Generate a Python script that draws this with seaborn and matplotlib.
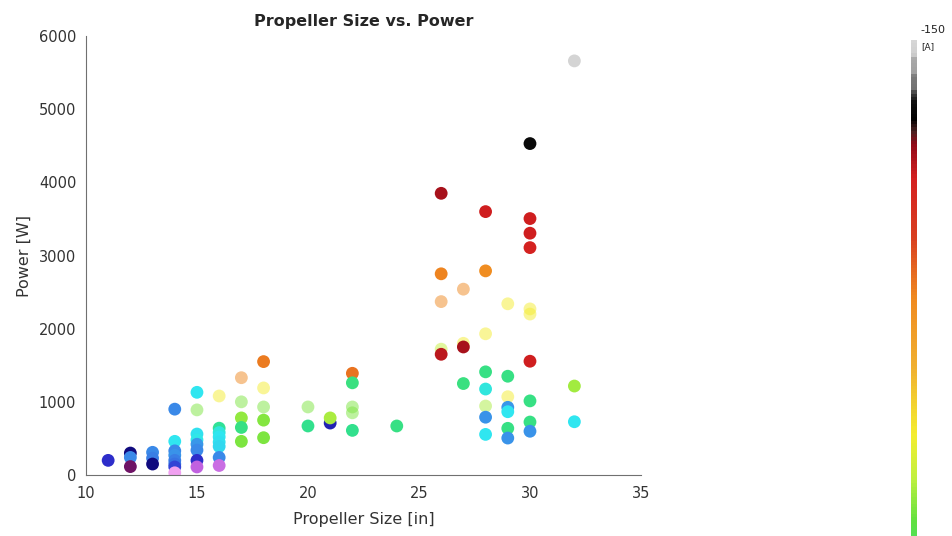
import numpy as np
import pandas as pd
import matplotlib
matplotlib.use("Agg")
import matplotlib.pyplot as plt
import seaborn as sns
from matplotlib.colors import LinearSegmentedColormap, Normalize
from matplotlib.cm import ScalarMappable

# ---- data (propeller size [in], power [W], current [A]) ----
size_solid = [11,
              12, 12, 12,
              13, 13, 13,
              14, 14, 14, 14, 14, 14, 14, 14,
              15, 15, 15, 15, 15, 15, 15,
              16, 16, 16, 16, 16, 16, 16,
              17, 17, 17,
              18, 18, 18,
              20,
              21, 21,
              22, 22, 22,
              24,
              26, 26, 26,
              27, 27,
              28, 28, 28, 28, 28, 28,
              29, 29, 29, 29, 29,
              30, 30, 30, 30, 30, 30, 30, 30,
              32, 32, 32]
power_solid = [200,
               300, 240, 115,
               310, 230, 150,
               900, 460, 330, 270, 200, 150, 110, 30,
               1130, 560, 480, 420, 340, 200, 110,
               640, 580, 520, 450, 390, 240, 130,
               780, 650, 460,
               1550, 750, 510,
               670,
               710, 780,
               1390, 1260, 610,
               670,
               3850, 2750, 1650,
               1750, 1250,
               3600, 2790, 1410, 1175, 790, 555,
               1350, 925, 865, 638, 505,
               4530, 3505, 3305, 3108, 1555, 1013, 724, 598,
               5660, 1216, 728]
current_solid = [-24,
                 -18, -33, -12,
                 -33, -32, -18,
                 -33, -45, -33, -34, -32, -31, -26, 0,
                 -45, -44, -46, -35, -33, -24, -6,
                 -55, -47, -45, -44, -43, -33, -5,
                 -70, -57, -68,
                 -107, -69, -68,
                 -56,
                 -22, -72,
                 -108, -58, -56,
                 -57,
                 -130, -106, -128,
                 -130, -58,
                 -126, -104, -57, -47, -34, -45,
                 -57, -35, -45, -57, -34,
                 -138, -126, -126, -125, -126, -57, -57, -34,
                 -149, -71, -45]

size_faded = [15, 16, 17, 17, 18, 18, 20, 22, 22, 26, 26, 27, 27, 28, 28, 29, 29, 30, 30]
power_faded = [890, 1080, 1330, 1000, 1190, 930, 930, 930, 850, 2370, 1720, 2540, 1800,
               1930, 943, 2340, 1070, 2270, 2200]
current_faded = [-68, -81, -105, -68, -81, -68, -68, -68, -68, -105, -74, -105, -81,
                 -81, -72, -81, -81, -81, -81]

x_ticks = [10, 15, 20, 25, 30, 35]
y_ticks = [0, 1000, 2000, 3000, 4000, 5000, 6000]

df_solid = pd.DataFrame({"size": size_solid, "power": power_solid, "current": current_solid})
df_faded = pd.DataFrame({"size": size_faded, "power": power_faded, "current": current_faded})

# ---- colormap (top of colorbar = -150 A) ----
stops = [(0.0, '#d6d6d6'), (0.015, '#cfcfcf'), (0.02, '#a8a8a8'), (0.035, '#a2a2a2'),
         (0.04, '#7a7a7a'), (0.055, '#727272'), (0.06, '#404040'), (0.07, '#101010'),
         (0.09, '#000000'), (0.105, '#4a2020'), (0.12, '#900a18'), (0.16, '#d42020'),
         (0.23, '#d84020'), (0.30, '#f08a20'), (0.38, '#f0b030'), (0.46, '#f4ee30'),
         (0.51, '#c0f040'), (0.56, '#60e040'), (0.63, '#30e090'), (0.70, '#30e8f0'),
         (0.78, '#3a8ae8'), (0.84, '#3030d0'), (0.88, '#0a0a80'), (0.92, '#6b1060'),
         (0.96, '#c060e0'), (1.0, '#f0a0f0')]
cmap = LinearSegmentedColormap.from_list("prop", stops)
norm = Normalize(vmin=-150, vmax=0)

sns.set_style("white")
plt.rcParams['font.family'] = ['DejaVu Sans']

fig = plt.figure(figsize=(9.53, 5.36), dpi=100)
ax = fig.add_axes([0.0902, 0.1138, 0.5824, 0.819])

sns.scatterplot(data=df_faded, x="size", y="power", hue="current", palette=cmap,
                hue_norm=norm, s=85, linewidth=0, alpha=0.5, legend=False, ax=ax)
sns.scatterplot(data=df_solid, x="size", y="power", hue="current", palette=cmap,
                hue_norm=norm, s=85, linewidth=0, alpha=1.0, legend=False, ax=ax)

ax.set_xlim(10, 35)
ax.set_ylim(0, 6000)
ax.set_xticks(x_ticks)
ax.set_yticks(y_ticks)
ax.set_xticklabels([str(v) for v in x_ticks])
ax.set_yticklabels([str(v) for v in y_ticks])
sns.despine(ax=ax)
for sp in ["left", "bottom"]:
    ax.spines[sp].set_color("#707070")
    ax.spines[sp].set_linewidth(0.8)
ax.tick_params(axis="both", direction="in", length=4, width=0.8, color="#707070",
               labelsize=10.5, labelcolor="#333333")
ax.tick_params(axis="x", pad=8)
ax.tick_params(axis="y", pad=7)
ax.set_xlabel("Propeller Size [in]", fontsize=11.5, color="#333333", labelpad=8)
ax.set_ylabel("Power [W]", fontsize=11.5, color="#333333", labelpad=5)
ax.set_title("Propeller Size vs. Power", fontsize=11.5, fontweight="bold", pad=7)

# colorbar (only upper part visible, runs off the figure bottom)
cax = fig.add_axes([0.9559, -0.679, 0.0063, 1.6045])
sm = ScalarMappable(norm=norm, cmap=cmap)
cb = fig.colorbar(sm, cax=cax)
cb.outline.set_visible(False)
cax.invert_yaxis()
cb.set_ticks([-150])
cb.set_ticklabels([""])
cax.tick_params(length=0)
fig.text(0.9655, 0.944, "-150", fontsize=8, ha="left", va="center", color="#222222")
fig.text(0.9665, 0.913, "[A]", fontsize=6.5, ha="left", va="center", color="#222222")

fig.savefig("out.png", dpi=100)
